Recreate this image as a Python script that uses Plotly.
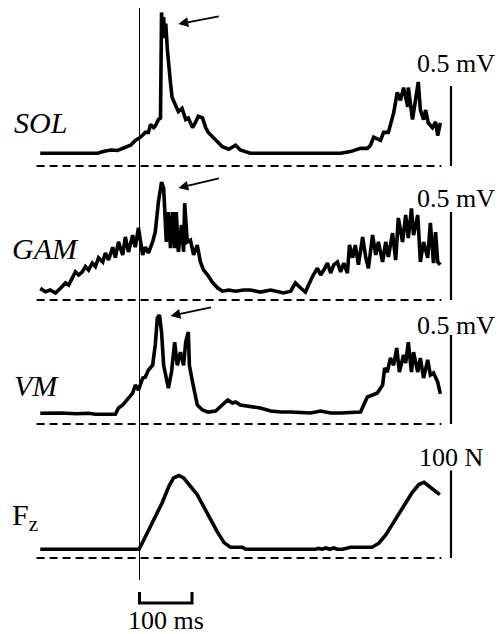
import plotly.graph_objects as go

W, H = 502, 634

# ---------------- data (time in ms, 0 = vertical reference line) ----------------
sol_t = [-189, -150, -122, -80, -69, -55, -42, -27, -17, -8, 2, 11, 17, 21, 27, 30, 36, 40,
         42, 44, 46, 48, 50, 53, 56, 59, 62, 69, 74, 81, 88, 93, 101, 107, 112, 120, 126, 131, 139,
         149, 158, 170, 183, 192, 211, 383, 402, 421, 434, 440, 446, 459, 465, 474, 484, 491,
         497, 503, 511, 512, 520, 526, 531, 535, 541, 545, 550, 558, 564, 568, 573]
sol_mv = [0.08, 0.08, 0.075, 0.08, 0.09, 0.10, 0.097, 0.12, 0.13, 0.16, 0.18, 0.21, 0.21, 0.26,
          0.24, 0.25, 0.29, 0.30, 0.96, 0.85, 0.93, 0.80, 0.89, 0.73, 0.59, 0.52, 0.43, 0.38, 0.34,
          0.36, 0.29, 0.30, 0.24, 0.275, 0.31, 0.30, 0.24, 0.21, 0.18, 0.15, 0.12, 0.105, 0.13,
          0.10, 0.08, 0.08, 0.09, 0.11, 0.11, 0.13, 0.18, 0.16, 0.21, 0.21, 0.33, 0.46, 0.41,
          0.49, 0.37, 0.49, 0.29, 0.41, 0.525, 0.35, 0.29, 0.35, 0.27, 0.24, 0.275, 0.19, 0.27]

gam_t = [-189, -179, -170, -160, -150, -141, -135, -128, -122, -116, -109, -103, -97, -90, -84,
         -78, -70, -65, -59, -51, -46, -40, -32, -27, -21, -13, -8, -2, 6, 11, 17, 25, 30, 36,
         42, 46, 51, 55, 59, 63, 67, 70, 74, 80, 84, 86, 91, 97, 103, 110, 116, 122, 130, 139,
         149, 158, 170, 183, 198, 211, 230, 250, 263, 274, 288, 297, 307, 316, 322, 331, 339,
         345, 351, 358, 364, 370, 377, 383, 389, 396, 400, 406, 411, 417, 425, 431, 436, 444,
         450, 455, 463, 469, 474, 482, 488, 493, 501, 507, 512, 518, 522, 530, 535, 541, 549,
         554, 560, 564, 568, 573]
gam_mv = [0.066, 0.047, 0.057, 0.04, 0.068, 0.097, 0.085, 0.125, 0.16, 0.142, 0.16, 0.19, 0.17,
          0.21, 0.19, 0.24, 0.216, 0.267, 0.227, 0.30, 0.24, 0.33, 0.256, 0.358, 0.273, 0.369,
          0.30, 0.41, 0.256, 0.30, 0.267, 0.33, 0.386, 0.557, 0.67, 0.636, 0.33, 0.5, 0.295,
          0.5, 0.295, 0.5, 0.273, 0.426, 0.273, 0.55, 0.33, 0.34, 0.256, 0.3125, 0.216, 0.17,
          0.142, 0.10, 0.068, 0.05, 0.057, 0.05, 0.057, 0.057, 0.045, 0.057, 0.045, 0.04, 0.05,
          0.097, 0.068, 0.045, 0.085, 0.142, 0.18, 0.142, 0.17, 0.21, 0.153, 0.2, 0.216, 0.16,
          0.21, 0.153, 0.3125, 0.24, 0.3125, 0.2, 0.358, 0.24, 0.18, 0.369, 0.256, 0.33, 0.216,
          0.33, 0.244, 0.38, 0.227, 0.466, 0.33, 0.483, 0.352, 0.52, 0.369, 0.483, 0.216, 0.33,
          0.24, 0.4375, 0.21, 0.386, 0.216, 0.2]

vm_t = [-189, -150, -120, -97, -84, -46, -40, -32, -27, -21, -13, -8, -2, 6, 11, 17, 25, 30,
        34, 38, 42, 46, 51, 55, 61, 67, 72, 78, 84, 88, 93, 95, 101, 107, 110, 120, 131, 145,
        158, 168, 177, 183, 192, 211, 230, 250, 269, 288, 307, 326, 345, 364, 383, 402, 421,
        427, 434, 444, 453, 463, 467, 472, 478, 484, 490, 495, 503, 507, 512, 518, 522, 530,
        535, 541, 549, 554, 560, 568, 573]
vm_mv = [0.06, 0.062, 0.058, 0.06, 0.055, 0.055, 0.09, 0.107, 0.124, 0.146, 0.174, 0.219, 0.19,
         0.258, 0.264, 0.303, 0.33, 0.444, 0.596, 0.612, 0.517, 0.33, 0.258, 0.202, 0.292, 0.46,
         0.33, 0.404, 0.33, 0.46, 0.517, 0.33, 0.236, 0.163, 0.107, 0.079, 0.067, 0.073, 0.107,
         0.135, 0.118, 0.124, 0.107, 0.096, 0.09, 0.073, 0.067, 0.067, 0.067, 0.062, 0.073,
         0.062, 0.062, 0.067, 0.067, 0.107, 0.152, 0.163, 0.174, 0.219, 0.315, 0.292, 0.371,
         0.33, 0.427, 0.292, 0.388, 0.343, 0.46, 0.292, 0.404, 0.292, 0.371, 0.258, 0.36,
         0.275, 0.287, 0.236, 0.169]

fz_t = [-189, -1, 5, 24, 43, 56, 65, 75, 84, 97, 110, 122, 135, 148, 161, 173, 196, 202, 335,
        341, 348, 355, 362, 370, 377, 387, 402, 443, 456, 469, 481, 494, 507, 519, 532, 542,
        551, 564, 572]
fz_n = [10, 10, 16.9, 39.9, 62.9, 82, 91.6, 94.3, 91.6, 82, 72.4, 59, 43.7, 30.2, 17.6, 12.3,
        12.3, 10, 10, 11, 10, 11.5, 10, 11.5, 10, 10, 12.3, 12.3, 16.9, 26.4, 37.9, 51.4, 62.9,
        74.4, 83.9, 86.6, 82.8, 76.2, 72.4]

labels = ["<i>SOL</i>", "<i>GAM</i>", "<i>VM</i>", "F<sub>z</sub>"]
scale_values = [0.5, 0.5, 0.5, 100]
scale_labels = ["0.5 mV", "0.5 mV", "0.5 mV", "100 N"]
time_bar_ms = 100
time_bar_label = "100 ms"

# ---------------- layout helpers ----------------
PX_PER_MS = 0.525
ZERO_X_PX = 139.5
x_range = [(0 - ZERO_X_PX) / PX_PER_MS, (W - ZERO_X_PX) / PX_PER_MS]


def px_to_paper_y(py):
    return 1 - py / H


# panel geometry: (top px, bottom px, zero-line px, px per unit)
panels = [
    (0, 170, 166, 160.0),
    (170, 305, 300, 176.0),
    (305, 432, 424, 178.0),
    (432, 634, 558, 0.875),
]
series = [(sol_t, sol_mv), (gam_t, gam_mv), (vm_t, vm_mv), (fz_t, fz_n)]
label_pos = [(12, 122), (10, 248), (12, 385), (10, 517)]
scale_lab_pos = [(415, 63), (415, 198), (415, 325), (417, 457)]

BASE_T0, BASE_T1 = -196, 575
SCALE_T = (451 - ZERO_X_PX) / PX_PER_MS
FONT = "Liberation Serif"

fig = go.Figure()
layout_axes = {}
annotations = []

for i, ((top, bot, zero, ppu), (t, v)) in enumerate(zip(panels, series)):
    yname = "y" if i == 0 else f"y{i+1}"
    axkey = "yaxis" if i == 0 else f"yaxis{i+1}"
    layout_axes[axkey] = dict(
        domain=[px_to_paper_y(bot), px_to_paper_y(top)],
        range=[(zero - bot) / ppu, (zero - top) / ppu],
        visible=False, fixedrange=True,
    )
    # dashed zero line
    fig.add_trace(go.Scatter(x=[BASE_T0, BASE_T1], y=[0, 0], yaxis=yname, mode="lines",
                             line=dict(color="black", width=2, dash="8px,5px"),
                             hoverinfo="skip", showlegend=False))
    # signal
    fig.add_trace(go.Scatter(x=t, y=v, yaxis=yname, mode="lines",
                             line=dict(color="black", width=3.6, shape="linear"),
                             showlegend=False))
    # amplitude scale bar
    fig.add_trace(go.Scatter(x=[SCALE_T, SCALE_T], y=[0, scale_values[i]], yaxis=yname,
                             mode="lines", line=dict(color="black", width=2.2),
                             hoverinfo="skip", showlegend=False))
    lx, ly = label_pos[i]
    annotations.append(dict(x=lx / W, y=px_to_paper_y(ly), xref="paper", yref="paper",
                            text=labels[i], showarrow=False, xanchor="left", yanchor="middle",
                            font=dict(family=FONT, size=30, color="black")))
    sx, sy = scale_lab_pos[i]
    annotations.append(dict(x=sx / W, y=px_to_paper_y(sy), xref="paper", yref="paper",
                            text=scale_labels[i], showarrow=False, xanchor="left",
                            yanchor="middle",
                            font=dict(family=FONT, size=26, color="black")))

# arrows pointing at the peaks
arrow_heads = [(74, 0.8875, "y", 42, -8), (74, 0.636, "y2", 42, -10), (59, 0.607, "y3", 42, -9)]
for ax_t, ay_v, yref, dx, dy in arrow_heads:
    annotations.append(dict(x=ax_t, y=ay_v, xref="x", yref=yref, ax=dx, ay=dy,
                            axref="pixel", ayref="pixel", text="", showarrow=True,
                            arrowhead=2, arrowsize=1.1, arrowwidth=1.8, arrowcolor="black"))

# time scale label
annotations.append(dict(x=time_bar_ms / 2, y=px_to_paper_y(620), xref="x", yref="paper",
                        text=time_bar_label, showarrow=False, xanchor="center",
                        yanchor="middle", font=dict(family=FONT, size=26, color="black")))

shapes = [
    dict(type="line", xref="x", yref="paper", x0=0, x1=0,
         y0=px_to_paper_y(580), y1=px_to_paper_y(8), line=dict(color="black", width=1)),
    dict(type="path", xref="x", yref="paper",
         path=(f"M 0,{px_to_paper_y(592)} L 0,{px_to_paper_y(603)} "
               f"L {time_bar_ms},{px_to_paper_y(603)} L {time_bar_ms},{px_to_paper_y(592)}"),
         line=dict(color="black", width=3)),
]

fig.update_layout(
    width=W, height=H, margin=dict(l=0, r=0, t=0, b=0),
    paper_bgcolor="white", plot_bgcolor="white",
    xaxis=dict(range=x_range, visible=False, fixedrange=True),
    annotations=annotations, shapes=shapes, showlegend=False,
    **layout_axes,
)

fig.write_html("out.html", config={"displayModeBar": False},
               post_script="document.body.style.margin='0';document.body.style.overflow='hidden';")
